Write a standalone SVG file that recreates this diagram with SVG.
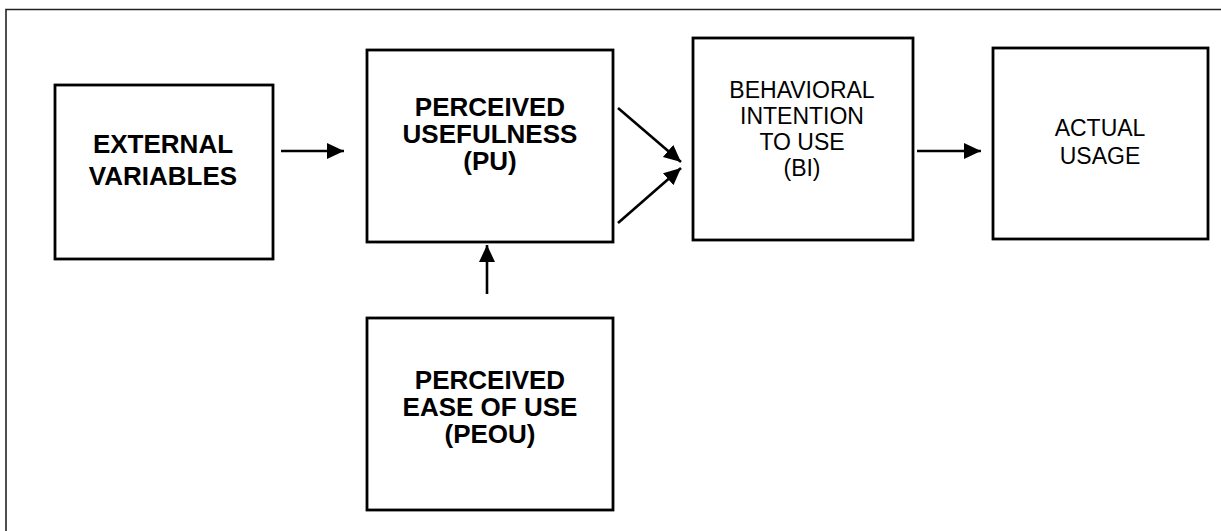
<svg xmlns="http://www.w3.org/2000/svg" width="1221" height="531" viewBox="0 0 1221 531">
<defs>
<style>
.box{fill:#fff;stroke:#000;stroke-width:2.8}
.b{font-family:"Liberation Sans",Arial,sans-serif;font-weight:bold;font-size:26px;text-anchor:middle;fill:#000}
.r{font-family:"Liberation Sans",Arial,sans-serif;font-size:23px;text-anchor:middle;fill:#000}
.c{stroke:#000;stroke-width:2.6;fill:none;marker-end:url(#ah)}
</style>
<marker id="ah" markerUnits="userSpaceOnUse" markerWidth="19" markerHeight="17" refX="17" refY="8" orient="auto">
<path d="M0,0 L17,8 L0,16 z" fill="#000"/>
</marker>
</defs>
<rect width="1221" height="531" fill="#fff"/>
<path d="M6,531 V9.5 H1221" fill="none" stroke="#222" stroke-width="1.6"/>
<g id="ext">
<rect class="box" x="55" y="85" width="218" height="174"/>
<text class="b" x="163" y="153">EXTERNAL</text>
<text class="b" x="163" y="185">VARIABLES</text>
</g>
<g id="pu">
<rect class="box" x="367" y="50" width="246" height="192"/>
<text class="b" x="490" y="116">PERCEIVED</text>
<text class="b" x="490" y="143">USEFULNESS</text>
<text class="b" x="490" y="170">(PU)</text>
</g>
<g id="peou">
<rect class="box" x="367" y="318" width="246" height="192"/>
<text class="b" x="490" y="389">PERCEIVED</text>
<text class="b" x="490" y="416">EASE OF USE</text>
<text class="b" x="490" y="443">(PEOU)</text>
</g>
<g id="bi">
<rect class="box" x="693" y="38" width="220" height="202"/>
<text class="r" x="802" y="98">BEHAVIORAL</text>
<text class="r" x="802" y="124">INTENTION</text>
<text class="r" x="802" y="150">TO USE</text>
<text class="r" x="802" y="176">(BI)</text>
</g>
<g id="au">
<rect class="box" x="993" y="48" width="215" height="191"/>
<text class="r" x="1100" y="136">ACTUAL</text>
<text class="r" x="1100" y="164">USAGE</text>
</g>
<g id="connectors">
<line class="c" x1="281" y1="151" x2="344" y2="151"/>
<line class="c" x1="618" y1="108" x2="681" y2="162"/>
<line class="c" x1="618" y1="223" x2="681" y2="168"/>
<line class="c" x1="487" y1="294" x2="487" y2="245"/>
<line class="c" x1="917" y1="151" x2="981" y2="151"/>
</g>
</svg>
